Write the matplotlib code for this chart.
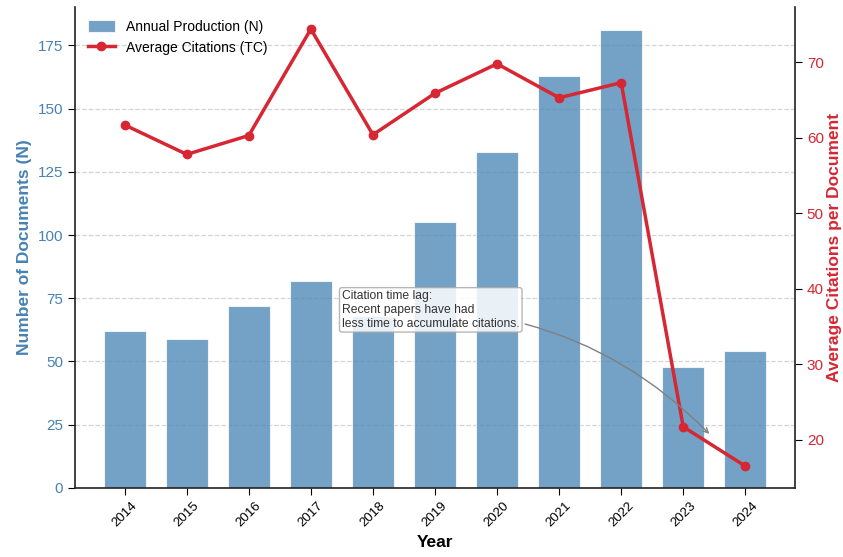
import numpy as np
import matplotlib
matplotlib.use('Agg')
from matplotlib import pyplot as plt

plt.rcParams['font.family'] = ['Liberation Sans', 'DejaVu Sans']

years = ['2014', '2015', '2016', '2017', '2018', '2019', '2020', '2021', '2022', '2023', '2024']
n_docs = [62, 59, 72, 82, 68, 105, 133, 163, 181, 48, 54]
avg_tc = [61.7, 57.8, 60.3, 74.4, 60.4, 65.9, 69.8, 65.3, 67.3, 21.7, 16.5]

bar_color = '#4682B4'
line_color = '#D62733'

fig = plt.figure(figsize=(8.43, 5.57), dpi=100)
ax = fig.add_axes([0.089, 0.124, 0.854, 0.863])
x = np.arange(len(years))

bars = ax.bar(x, n_docs, width=0.68, color=bar_color, alpha=0.75,
              edgecolor='white', linewidth=0.8, label='Annual Production (N)', zorder=2)
ax.set_xlim(-0.8, 10.8)
ax.set_xticks(x)
ax.set_xticklabels(years, rotation=45, fontsize=9.5)
ax.set_xlabel('Year', fontsize=12.5, fontweight='bold')
ax.set_ylabel('Number of Documents (N)', fontsize=12.5, fontweight='bold', color=bar_color)
ax.tick_params(axis='y', labelcolor=bar_color, labelsize=11, direction='out', length=5)
ax.tick_params(axis='x', direction='out', length=5)
ax.yaxis.grid(True, linestyle='--', color='#d5d5d5', linewidth=0.9, zorder=0)
ax.set_axisbelow(True)
for s in ['left', 'bottom']:
    ax.spines[s].set_linewidth(1.2)
    ax.spines[s].set_color('#222222')
ax.spines['top'].set_visible(False)
ax.spines['right'].set_visible(False)

ax2 = ax.twinx()
line, = ax2.plot(x, avg_tc, color=line_color, linewidth=2.5, marker='o', markersize=6,
                 label='Average Citations (TC)', zorder=3)
ax2.set_ylabel('Average Citations per Document', fontsize=12.5, fontweight='bold',
               color=line_color, labelpad=2)
ax2.tick_params(axis='y', labelcolor=line_color, labelsize=11, direction='out', length=5)
ax2.spines['top'].set_visible(False)
ax2.spines['left'].set_visible(False)
ax2.spines['bottom'].set_visible(False)
ax2.spines['right'].set_linewidth(1.2)
ax2.spines['right'].set_color('#222222')

ax2.annotate('Citation time lag:\nRecent papers have had\nless time to accumulate citations.',
             xy=(9.45, 20.5), xytext=(3.5, 37.2), fontsize=8.7, color='#333333',
             ha='left', va='center',
             bbox=dict(boxstyle='round,pad=0.2', fc='white', ec='#aaaaaa', alpha=0.85),
             arrowprops=dict(arrowstyle='->', color='gray', lw=1,
                             connectionstyle='arc3,rad=-0.2'))

ax.legend([bars, line], ['Annual Production (N)', 'Average Citations (TC)'],
          loc='upper left', frameon=False, fontsize=10, handleheight=0.9)

fig.savefig('out.png', dpi=100)
